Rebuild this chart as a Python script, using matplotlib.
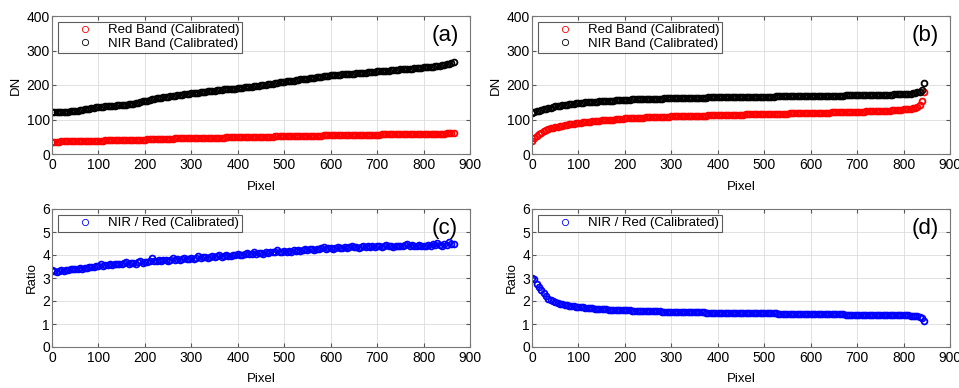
import numpy as np
import matplotlib
matplotlib.use('Agg')
import matplotlib.pyplot as plt

# values, one every 5 pixels
nir_a = [121, 121, 122, 122, 122, 123, 123, 123, 124, 124, 126, 126, 127, 128, 129, 130, 131, 132, 133, 135,
         136, 137, 137, 138, 138, 139, 140, 140, 141, 141, 142, 143, 143, 144, 145, 146, 147, 149, 151, 153,
         154, 155, 157, 158, 159, 161, 162, 163, 165, 166, 166, 167, 168, 169, 170, 171, 172, 173, 174, 175,
         176, 177, 178, 178, 179, 180, 181, 182, 183, 184, 184, 185, 185, 186, 187, 187, 188, 188, 189, 189,
         190, 191, 192, 193, 193, 194, 195, 196, 197, 198, 199, 200, 201, 202, 203, 204, 205, 206, 208, 209,
         210, 211, 212, 213, 213, 214, 215, 216, 217, 217, 218, 219, 220, 221, 222, 223, 224, 225, 226, 227,
         228, 229, 229, 230, 230, 231, 231, 232, 232, 233, 233, 234, 234, 235, 236, 236, 237, 238, 239, 239,
         240, 240, 241, 241, 242, 242, 243, 243, 244, 244, 245, 245, 246, 246, 247, 247, 248, 249, 249, 250,
         251, 251, 252, 253, 253, 254, 255, 256, 258, 259, 261, 262, 264, 268]
red_a = [36, 36, 36, 36, 37, 37, 37, 37, 37, 38, 38, 38, 38, 38, 38, 38, 39, 39, 39, 39,
         39, 39, 39, 40, 40, 40, 40, 40, 41, 41, 41, 41, 41, 41, 42, 42, 42, 42, 42, 42,
         42, 43, 43, 43, 43, 43, 43, 44, 44, 44, 44, 44, 44, 45, 45, 45, 45, 45, 45, 45,
         45, 46, 46, 46, 46, 46, 46, 46, 47, 47, 47, 47, 47, 47, 47, 48, 48, 48, 48, 48,
         48, 48, 49, 49, 49, 49, 49, 49, 49, 50, 50, 50, 50, 50, 50, 50, 51, 51, 51, 51,
         51, 51, 51, 52, 52, 52, 52, 52, 52, 52, 53, 53, 53, 53, 53, 53, 53, 54, 54, 54,
         54, 54, 54, 54, 54, 55, 55, 55, 55, 55, 55, 55, 55, 56, 56, 56, 56, 56, 56, 56,
         56, 56, 57, 57, 57, 57, 57, 57, 57, 57, 57, 58, 58, 58, 58, 58, 58, 58, 58, 58,
         58, 58, 59, 59, 59, 59, 59, 59, 59, 59, 60, 60, 60, 61]
ratio_c = [3.33, 3.30, 3.28, 3.30, 3.35, 3.32, 3.36, 3.34, 3.38, 3.40, 3.38, 3.41, 3.43, 3.40, 3.45, 3.44, 3.47, 3.46, 3.50, 3.52,
           3.54, 3.60, 3.52, 3.56, 3.58, 3.62, 3.57, 3.60, 3.63, 3.59, 3.62, 3.64, 3.68, 3.61, 3.65, 3.66, 3.63, 3.68, 3.72, 3.66,
           3.68, 3.70, 3.74, 3.85, 3.72, 3.75, 3.77, 3.74, 3.78, 3.80, 3.76, 3.79, 3.88, 3.80, 3.82, 3.79, 3.83, 3.85, 3.82, 3.84,
           3.86, 3.84, 3.88, 3.95, 3.87, 3.90, 3.92, 3.86, 3.93, 3.95, 3.91, 3.94, 3.98, 3.93, 3.96, 3.99, 3.95, 3.97, 4.00, 3.98,
           4.03, 4.00, 4.02, 4.05, 4.09, 4.03, 4.06, 4.12, 4.05, 4.08, 4.10, 4.06, 4.12, 4.09, 4.13, 4.11, 4.14, 4.21, 4.12, 4.15,
           4.16, 4.12, 4.18, 4.15, 4.20, 4.17, 4.22, 4.19, 4.21, 4.28, 4.20, 4.24, 4.26, 4.22, 4.27, 4.25, 4.29, 4.35, 4.27, 4.30,
           4.30, 4.27, 4.31, 4.33, 4.29, 4.32, 4.34, 4.31, 4.35, 4.41, 4.33, 4.36, 4.32, 4.35, 4.37, 4.34, 4.38, 4.36, 4.39, 4.35,
           4.37, 4.40, 4.36, 4.38, 4.45, 4.37, 4.39, 4.35, 4.40, 4.38, 4.41, 4.37, 4.42, 4.47, 4.39, 4.43, 4.40, 4.38, 4.44, 4.41,
           4.41, 4.37, 4.43, 4.40, 4.46, 4.42, 4.52, 4.44, 4.40, 4.47, 4.43, 4.55, 4.46, 4.50]

nir_b = [120, 122, 124, 126, 128, 130, 131, 133, 134, 136, 138, 139, 140, 141, 142, 143, 144, 145, 146, 147,
         148, 148, 149, 150, 150, 151, 151, 152, 152, 153, 154, 154, 154, 155, 155, 155, 156, 156, 156, 157,
         157, 157, 157, 158, 158, 158, 158, 159, 159, 159, 159, 159, 160, 160, 160, 160, 160, 161, 161, 161,
         161, 161, 161, 162, 162, 162, 162, 162, 162, 163, 163, 163, 163, 163, 163, 163, 164, 164, 164, 164,
         164, 164, 164, 164, 164, 165, 165, 165, 165, 165, 165, 165, 165, 165, 166, 166, 166, 166, 166, 166,
         166, 166, 166, 166, 166, 167, 167, 167, 167, 167, 167, 167, 167, 167, 167, 168, 168, 168, 168, 168,
         168, 168, 168, 168, 168, 168, 169, 169, 169, 169, 169, 169, 169, 169, 169, 170, 170, 170, 170, 170,
         170, 170, 170, 170, 171, 171, 171, 171, 171, 171, 172, 172, 172, 172, 172, 172, 173, 173, 173, 173,
         174, 174, 175, 175, 176, 177, 179, 181, 186, 205]
red_b = [39, 45, 52, 57, 62, 67, 70, 72, 74, 76, 78, 79, 81, 82, 83, 85, 86, 87, 88, 89,
         90, 91, 92, 92, 93, 94, 95, 95, 96, 97, 98, 98, 99, 99, 100, 100, 101, 101, 102, 102,
         103, 103, 103, 104, 104, 104, 105, 105, 105, 106, 106, 106, 106, 107, 107, 107, 107, 108, 108, 108,
         109, 109, 109, 109, 109, 110, 110, 110, 110, 110, 111, 111, 111, 111, 111, 111, 112, 112, 112, 112,
         113, 113, 113, 113, 113, 113, 114, 114, 114, 114, 114, 114, 115, 115, 115, 115, 115, 115, 115, 116,
         116, 116, 116, 116, 116, 117, 117, 117, 117, 117, 117, 118, 118, 118, 118, 118, 118, 118, 119, 119,
         119, 119, 119, 119, 120, 120, 120, 120, 120, 121, 121, 121, 121, 121, 122, 122, 122, 122, 122, 123,
         123, 123, 123, 123, 124, 124, 124, 124, 125, 125, 125, 125, 126, 126, 126, 127, 127, 127, 128, 128,
         129, 129, 130, 131, 132, 134, 136, 142, 155, 180]
ratio_d = [3.02, 2.95, 2.72, 2.60, 2.47, 2.35, 2.20, 2.10, 2.05, 2.00, 1.95, 1.92, 1.89, 1.86, 1.84, 1.82, 1.80, 1.79, 1.77, 1.76,
           1.74, 1.73, 1.72, 1.71, 1.70, 1.69, 1.68, 1.67, 1.67, 1.66, 1.65, 1.65, 1.64, 1.63, 1.63, 1.62, 1.62, 1.61, 1.61, 1.60,
           1.60, 1.59, 1.59, 1.58, 1.58, 1.58, 1.57, 1.57, 1.57, 1.56, 1.56, 1.56, 1.55, 1.55, 1.55, 1.55, 1.54, 1.54, 1.54, 1.54,
           1.53, 1.53, 1.53, 1.53, 1.53, 1.52, 1.52, 1.52, 1.52, 1.52, 1.51, 1.51, 1.51, 1.51, 1.51, 1.50, 1.50, 1.50, 1.50, 1.50,
           1.49, 1.49, 1.49, 1.49, 1.49, 1.49, 1.48, 1.48, 1.48, 1.48, 1.48, 1.48, 1.47, 1.47, 1.47, 1.47, 1.47, 1.47, 1.47, 1.46,
           1.46, 1.46, 1.46, 1.46, 1.46, 1.46, 1.45, 1.45, 1.45, 1.45, 1.45, 1.45, 1.45, 1.45, 1.44, 1.44, 1.44, 1.44, 1.44, 1.44,
           1.44, 1.43, 1.43, 1.43, 1.43, 1.43, 1.43, 1.43, 1.42, 1.42, 1.42, 1.42, 1.42, 1.42, 1.42, 1.41, 1.41, 1.41, 1.41, 1.41,
           1.41, 1.41, 1.40, 1.40, 1.40, 1.40, 1.40, 1.40, 1.40, 1.39, 1.39, 1.39, 1.39, 1.39, 1.39, 1.38, 1.38, 1.38, 1.38, 1.38,
           1.37, 1.37, 1.37, 1.36, 1.36, 1.35, 1.34, 1.31, 1.25, 1.13]

STEP = 5
px_a = np.arange(len(nir_a)) * STEP
px_b = np.arange(len(nir_b)) * STEP

plt.rcParams['font.family'] = ['Liberation Sans', 'DejaVu Sans']
plt.rcParams['font.size'] = 10

fig = plt.figure(figsize=(9.59, 3.88), dpi=100)
W, H = 959, 388


def make_ax(x0, y0):
    # x0 = left pixel, y0 = top pixel of the axes box
    return fig.add_axes([x0 / W, (H - y0 - 138) / H, 418 / W, 138 / H])


def style(ax, ylim, yticks, ylabel, tag):
    ax.set_xlim(0, 900)
    ax.set_xticks(range(0, 901, 100))
    ax.set_ylim(*ylim)
    ax.set_yticks(yticks)
    ax.grid(True, color='#dcdcdc', lw=0.6)
    ax.set_axisbelow(True)
    ax.tick_params(direction='in', length=3, top=True, right=True, color='#555555', labelsize=10)
    ax.tick_params(axis='x', pad=3)
    ax.tick_params(axis='y', pad=1.5)
    for s in ax.spines.values():
        s.set_color('#777777')
        s.set_linewidth(0.8)
    ax.set_xlabel('Pixel', fontsize=9.5, labelpad=6)
    ax.set_ylabel(ylabel, fontsize=9.5, labelpad=3)
    ax.text(0.94, 0.86, tag, transform=ax.transAxes, ha='center', va='center', fontsize=16)
    leg = ax.legend(loc='upper left', bbox_to_anchor=(0.014, 0.96), fontsize=9.5, frameon=True,
                    fancybox=False, borderpad=0.2, handlelength=3.7, handletextpad=-0.1,
                    labelspacing=0.1, borderaxespad=0)
    leg.get_frame().set_edgecolor('#333333')
    leg.get_frame().set_linewidth(0.8)
    for h in leg.legend_handles:
        h.set_markersize(4.5)
        h.set_markeredgewidth(0.6)


mk = dict(ls='none', marker='o', mfc='none', ms=4.2, mew=1.3)

ax_a = make_ax(52, 16)
ax_a.plot(px_a, red_a, mec='red', label='Red Band (Calibrated)', **mk)
ax_a.plot(px_a, nir_a, mec='black', label='NIR Band (Calibrated)', **mk)
style(ax_a, (0, 400), range(0, 401, 100), 'DN', '(a)')

ax_b = make_ax(532, 16)
ax_b.plot(px_b, red_b, mec='red', label='Red Band (Calibrated)', **mk)
ax_b.plot(px_b, nir_b, mec='black', label='NIR Band (Calibrated)', **mk)
style(ax_b, (0, 400), range(0, 401, 100), 'DN', '(b)')

ax_c = make_ax(52, 209)
ax_c.plot(px_a, ratio_c, mec='blue', label='NIR / Red (Calibrated)', **mk)
style(ax_c, (0, 6), range(0, 7), 'Ratio', '(c)')

ax_d = make_ax(532, 209)
ax_d.plot(px_b, ratio_d, mec='blue', label='NIR / Red (Calibrated)', **mk)
style(ax_d, (0, 6), range(0, 7), 'Ratio', '(d)')

plt.savefig('out.png', dpi=100)
